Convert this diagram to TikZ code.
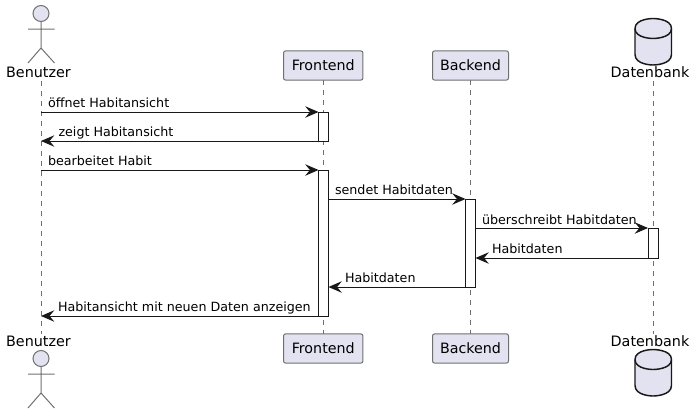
\documentclass[tikz,border=0pt]{standalone}
\usepackage{fontspec}
\setmainfont{DejaVu Sans}
\usetikzlibrary{arrows.meta}
\definecolor{partfill}{HTML}{E2E2F0}
\definecolor{ink}{HTML}{181818}
\definecolor{softline}{HTML}{707070}
\tikzset{
  x=0.75pt,y=-0.75pt,
  msg/.style={draw=ink,line width=0.75pt,-{Stealth[length=10pt,width=8.6pt,inset=3.6pt]}},
  lifeline/.style={draw=softline,line width=0.7pt,dash pattern=on 3.75pt off 3.75pt},
  partbox/.style={draw=softline,line width=0.75pt,fill=partfill,rounded corners=1.6pt,inner sep=0pt,outer sep=0pt,minimum height=21.9pt,font=\fontsize{10.7pt}{12pt}\selectfont,text height=8.2pt,text depth=1.3pt},
  partlabel/.style={inner sep=0pt,outer sep=0pt,anchor=base,font=\fontsize{10.75pt}{12pt}\selectfont},
  msglabel/.style={inner sep=0pt,outer sep=0pt,anchor=base west,font=\fontsize{9.52pt}{12pt}\selectfont,text=black},
  actbar/.style={draw=ink,line width=0.75pt,fill=white,inner sep=0pt,outer sep=0pt,minimum width=7.5pt},
  actorline/.style={draw=softline,line width=0.75pt},
  actorhead/.style={draw=softline,line width=0.75pt,fill=partfill,circle,inner sep=0pt,outer sep=0pt,minimum size=12pt},
  dbline/.style={draw=ink,line width=1.1pt,line join=round},
}
\newcommand{\actorfig}[2]{% name, top y of head centre
  \node[actorhead] (#1head) at (41,#2) {};
  \coordinate (#1neck) at (41,#2+8);
  \coordinate (#1hip) at (41,#2+34.5);
  \coordinate (#1armL) at (28,#2+15.5);
  \coordinate (#1armR) at (54.5,#2+15.5);
  \coordinate (#1legL) at (28,#2+49.5);
  \coordinate (#1legR) at (54.5,#2+49.5);
  \draw[actorline] (#1head.south) -- (#1hip) -- (#1legL) (#1hip) -- (#1legR) (#1armL) -- (#1armR);
}
\newcommand{\dbfig}[1]{% top y
  \draw[dbline,fill=partfill] (635,#1+10) .. controls (635,#1) and (653,#1) .. (653,#1) .. controls (653,#1) and (671.5,#1) .. (671.5,#1+10) -- (671.5,#1+36) .. controls (671.5,#1+46.5) and (653,#1+46.5) .. (653,#1+46.5) .. controls (653,#1+46.5) and (635,#1+46.5) .. (635,#1+36) -- cycle;
  \draw[dbline] (635,#1+10) .. controls (635,#1+20) and (653,#1+20) .. (653,#1+20) .. controls (653,#1+20) and (671.5,#1+20) .. (671.5,#1+10);
}
\begin{document}
\begin{tikzpicture}
\useasboundingbox (0,0) rectangle (696,414);
% lifeline ends
\coordinate (uTop) at (41,81); \coordinate (uBot) at (41,334);
\coordinate (dTop) at (653,81); \coordinate (dBot) at (653,334);
% participants
\node[partbox,minimum width=59.6pt] (fTop) at (323.25,65.5) {Frontend};
\node[partbox,minimum width=57pt] (bTop) at (470.5,65.5) {Backend};
\node[partbox,minimum width=59.6pt] (fBot) at (323.25,348.5) {Frontend};
\node[partbox,minimum width=57pt] (bBot) at (470.5,348.5) {Backend};
% lifelines
\draw[lifeline] (uTop) -- (uBot);
\draw[lifeline] (fTop) -- (fBot);
\draw[lifeline] (bTop) -- (bBot);
\draw[lifeline] (dTop) -- (dBot);
% actors and databases
\actorfig{uA}{13.5}
\actorfig{uB}{358.5}
\dbfig{18.5}
\dbfig{349.5}
\node[partlabel] (uLabelTop) at (38.5,77.5) {Benutzer};
\node[partlabel] (uLabelBot) at (38.5,346) {Benutzer};
\node[partlabel] (dLabelTop) at (650,77.5) {Datenbank};
\node[partlabel] (dLabelBot) at (650,346) {Datenbank};
% activation bars
\node[actbar,minimum height=21.75pt] (f1) at (323.5,126.5) {};
\node[actbar,minimum height=109.5pt] (f2) at (323.5,243) {};
\node[actbar,minimum height=66pt] (b1) at (470.5,243) {};
\node[actbar,minimum height=22.5pt] (d1) at (653,243) {};
% free ends on the Benutzer lifeline
\coordinate (u1) at (41,112); \coordinate (u2) at (41,141);
\coordinate (u3) at (41,170); \coordinate (u4) at (41,316);
% messages
\draw[msg] (u1) -- (f1.north west);
\draw[msg] (f1.south west) -- (u2);
\draw[msg] (u3) -- (f2.north west);
\draw[msg] (f2.east |- b1.north) -- (b1.north west);
\draw[msg] (b1.east |- d1.north) -- (d1.north west);
\draw[msg] (d1.south west) -- (b1.east |- d1.south);
\draw[msg] (b1.south west) -- (f2.east |- b1.south);
\draw[msg] (f2.south west) -- (u4);
% labels
\node[msglabel] (m1) at (48,107.5) {öffnet Habitansicht};
\node[msglabel] (m2) at (58.5,136) {zeigt Habitansicht};
\node[msglabel] (m3) at (48,165) {bearbeitet Habit};
\node[msglabel] (m4) at (335,194) {sendet Habitdaten};
\node[msglabel] (m5) at (482,224) {überschreibt Habitdaten};
\node[msglabel] (m6) at (492,253) {Habitdaten};
\node[msglabel] (m7) at (345,282) {Habitdaten};
\node[msglabel] (m8) at (58,311) {Habitansicht mit neuen Daten anzeigen};
\end{tikzpicture}
\end{document}
